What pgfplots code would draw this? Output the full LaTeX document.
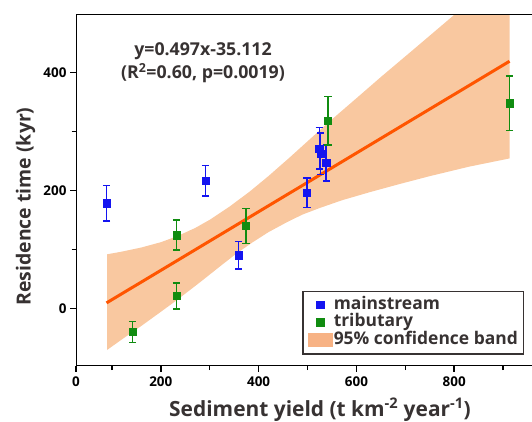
\documentclass[border=0pt]{standalone}
\usepackage{fontspec}
\setmainfont{Open Sans}
\usepackage{pgfplots}
\pgfplotsset{compat=1.18}
\definecolor{mblue}{RGB}{20,20,240}
\definecolor{tgreen}{RGB}{16,140,16}
\definecolor{bandc}{RGB}{249,200,160}
\definecolor{bandleg}{RGB}{247,178,132}
\definecolor{fitline}{RGB}{255,85,0}
\definecolor{txt}{RGB}{55,50,50}

\pgfplotstableread{
x y e
89 178 30
291.5 216 26
359 90 23.5
499 196 25
524 271 35
527 262 35
538 247 31
}\mainstream

\pgfplotstableread{
x y e
142 -40 17.5
232 124 25.5
232 21 22
374 139.5 30
542 317.5 41
913 347.5 46
}\tributary

\begin{document}
\begin{tikzpicture}[x=1bp,y=1bp]
\useasboundingbox (0,0) rectangle (532,421);
\begin{axis}[
  at={(76bp,55.3bp)}, anchor=south west,
  scale only axis, width=456bp, height=351.4bp,
  xmin=26.6, xmax=959, ymin=-97.3, ymax=498.3,
  axis line style={draw=none},
  xtick={26.6,200,400,600,800}, xticklabels={0,200,400,600,800},
  minor xtick={100,300,500,700,900},
  ytick={0,200,400}, minor ytick={100,300},
  tick align=outside, tick pos=left,
  major tick length=6bp, minor tick length=4.5bp,
  every tick/.style={black, line width=1.5bp},
  tick label style={font=\bfseries\fontsize{13.5}{15}\selectfont},
  xticklabel style={yshift=-1.5bp},
  /pgf/number format/assume math mode=true,
  legend style={at={(rel axis cs:0.4956,0.2140)}, anchor=north west,
    draw=txt, line width=1.5bp, fill=white,
    font=\bfseries\fontsize{17.5}{17.5}\selectfont, text=txt,
    inner xsep=5bp, inner ysep=5bp, row sep=0bp,
    nodes={inner sep=0.5bp, text height=12.5bp, text depth=4bp},
    /tikz/every even column/.append style={column sep=13bp}},
  legend cell align=left,
]
% 95% confidence band: upper edge left to right, lower edge right to left
\addplot[forget plot, draw=none, fill=bandc] coordinates {
  (90,91.5) (120,96) (160,103) (200,112) (233,122) (270,136) (300,150)
  (340,172) (382,198) (420,224) (464,256) (500,283) (544,316) (600,356)
  (650,392) (720,441) (798,496) (913,577)
  (913,254) (830,240) (750,224) (690,211) (628,197) (570,183) (525,170)
  (490,159) (458,146) (420,129) (388,112) (355,93) (321,71) (280,44)
  (233,14) (200,-6) (160,-30) (120,-53) (90,-70.7)
} -- cycle;
% regression line
\addplot[forget plot, fitline, line width=3bp] coordinates {(89,9.1) (913,418.7)};
% data
\addplot[forget plot, only marks, mark=square*, mark size=3.6bp, color=mblue,
  error bars/.cd, y dir=both, y explicit,
  error bar style={line width=1.4bp, mblue},
  error mark options={rotate=90, mark size=3.6bp, line width=1.4bp, mblue}]
  table[x=x, y=y, y error=e] {\mainstream};
\addplot[forget plot, only marks, mark=square*, mark size=3.6bp, color=tgreen,
  error bars/.cd, y dir=both, y explicit,
  error bar style={line width=1.4bp, tgreen},
  error mark options={rotate=90, mark size=3.6bp, line width=1.4bp, tgreen}]
  table[x=x, y=y, y error=e] {\tributary};
% spines
\draw[black, line width=2bp] (rel axis cs:1,1) -- (rel axis cs:0,1) -- (rel axis cs:0,0) -- (rel axis cs:1,0);
% legend
\addlegendimage{legend image code/.code={\fill[mblue] (8.5bp,-3.6bp) rectangle (15.5bp,3.6bp);}}
\addlegendentry{mainstream}
\addlegendimage{legend image code/.code={\fill[tgreen] (8.5bp,-3.6bp) rectangle (15.5bp,3.6bp);}}
\addlegendentry{tributary}
\addlegendimage{legend image code/.code={\fill[bandleg] (0bp,-6bp) rectangle (24bp,6bp);}}
\addlegendentry{95\% confidence band}
\end{axis}
% annotation
\node[anchor=base, text=txt, font=\bfseries\fontsize{17.8}{17.8}\selectfont] at (203,366) {y=0.497x-35.112};
\node[anchor=base, text=txt, font=\bfseries\fontsize{17.8}{17.8}\selectfont] at (203,342.7) {(R\textsuperscript{2}=0.60, p=0.0019)};
% axis labels
\node[anchor=base, text=txt, font=\bfseries\fontsize{21}{21}\selectfont] at (320,5) {Sediment yield (t km\textsuperscript{-2} year\textsuperscript{-1})};
\node[anchor=base, rotate=90, text=txt, font=\bfseries\fontsize{19.5}{19.5}\selectfont] at (30.5,214.5) {Residence time (kyr)};
\end{tikzpicture}
\end{document}
